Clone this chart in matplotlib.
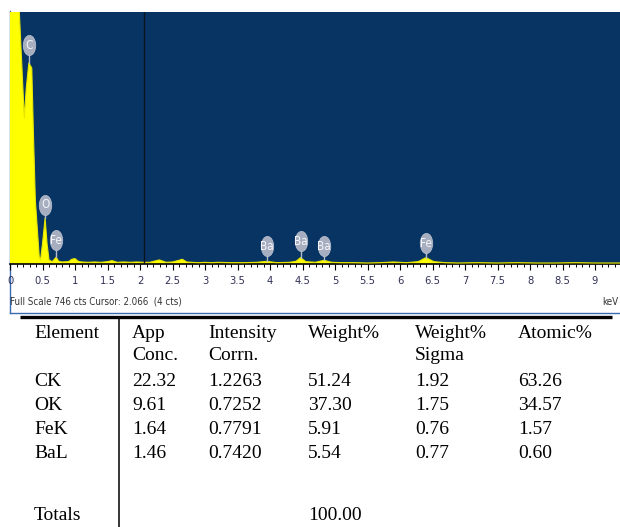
"""EDS spectrum screenshot with quantification table below."""

import matplotlib
matplotlib.use('Agg')
import matplotlib.pyplot as plt
from matplotlib.path import Path
from matplotlib.transforms import Affine2D
from matplotlib.ticker import MultipleLocator, FuncFormatter

plt.rcParams['font.family'] = ['Liberation Sans Narrow', 'DejaVu Sans']
plt.rcParams['font.stretch'] = 'condensed'

# spectrum (keV, counts)
energy = [0.00, 0.05, 0.10, 0.14, 0.22, 0.25, 0.29, 0.335, 0.36, 0.39, 0.45, 0.47,
          0.50, 0.54, 0.57, 0.60, 0.65, 0.71, 0.75, 0.80, 0.90, 0.95, 1.00, 1.05,
          1.10, 1.20, 1.30, 1.40, 1.50, 1.57, 1.65, 1.75, 1.85, 1.95, 2.05, 2.15,
          2.25, 2.30, 2.40, 2.50, 2.60, 2.65, 2.72, 2.80, 2.90, 3.00, 3.10, 3.20,
          3.40, 3.60, 3.80, 3.95, 4.10, 4.30, 4.40, 4.47, 4.55, 4.70, 4.83, 4.95,
          5.10, 5.30, 5.50, 5.70, 5.90, 6.10, 6.28, 6.40, 6.52, 6.70, 6.90, 7.20,
          7.50, 7.80, 8.10, 8.40, 8.70, 9.00, 9.40]
counts = [1800, 2200, 1500, 760, 432, 520, 595, 580, 388, 189, 21, 12,
          60, 136, 60, 12, 7, 20, 8, 6, 7, 14, 16, 8,
          6, 5, 6, 5, 7, 10, 5, 6, 5, 6, 5, 5,
          10, 12, 5, 6, 11, 14, 6, 5, 4, 5, 4, 5,
          4, 4, 5, 8, 4, 5, 8, 19, 7, 5, 11, 5,
          4, 4, 3, 4, 6, 4, 7, 19, 7, 4, 3, 4,
          3, 4, 3, 3, 4, 3, 3]
full_scale = 746
cursor_kev = 2.066

# peak markers: element, line energy, label height (cts), peak height (cts)
peak_names = ['C', 'O', 'Fe', 'Ba', 'Ba', 'Ba', 'Fe']
peak_kev = [0.29, 0.54, 0.71, 3.95, 4.47, 4.83, 6.40]
label_cts = [648, 175, 71, 53, 68, 53, 62]
peak_cts = [595, 136, 20, 8, 19, 11, 19]

# quantification table
elements = ['CK', 'OK', 'FeK', 'BaL']
app_conc = ['22.32', '9.61', '1.64', '1.46']
intensity_corr = ['1.2263', '0.7252', '0.7791', '0.7420']
weight_pct = ['51.24', '37.30', '5.91', '5.54']
weight_sigma = ['1.92', '1.75', '0.76', '0.77']
atomic_pct = ['63.26', '34.57', '1.57', '0.60']
total_weight = '100.00'

W, H = 620, 527
fig = plt.figure(figsize=(W / 100, H / 100), dpi=100)
fig.patch.set_facecolor('white')

# overlay in pixel coordinates for frame and table
ov = fig.add_axes([0, 0, 1, 1], zorder=0)
ov.set_xlim(0, W)
ov.set_ylim(H, 0)
ov.axis('off')

# spectrum panel
x0, y_top, y_base = 10, 12, 264
px_per_kev = 65
ax = fig.add_axes([x0 / W, (H - y_base) / H, (W - x0) / W, (y_base - y_top) / H], zorder=2)
ax.set_facecolor('#083464')
ax.set_xlim(0, (W - x0) / px_per_kev)
ax.set_ylim(0, full_scale)

ax.fill_between(energy, counts, 0, color='#FFFF00', lw=0, zorder=2)
ax.plot(energy, counts, color='#E6E600', lw=0.8, zorder=3)
ax.axvline(cursor_kev, color='#0c1420', lw=1.0, zorder=4)

blob = Path(Affine2D().scale(0.62, 1.0).transform(Path.unit_circle().vertices),
            Path.unit_circle().codes)
for name, e, ly, py in zip(peak_names, peak_kev, label_cts, peak_cts):
    ax.plot([e, e], [py, ly], color='#B4BCCB', lw=1.0, zorder=5)
    ax.plot(e, ly, marker=blob, ms=14.5, color='#A6AEC0', mec='#C0C6D2', mew=0.5,
            zorder=6, linestyle='none')
    ax.text(e, ly, name, ha='center', va='center', fontsize=8.5,
            color='#F4F4F8', zorder=7)

for s in ['top', 'left', 'right']:
    ax.spines[s].set_visible(False)
ax.spines['bottom'].set_color('black')
ax.spines['bottom'].set_linewidth(1.2)
ax.set_yticks([])
ax.xaxis.set_major_locator(MultipleLocator(0.5))
ax.xaxis.set_minor_locator(MultipleLocator(0.1))
ax.xaxis.set_major_formatter(FuncFormatter(lambda v, p: f'{v:g}'))
ax.tick_params(axis='x', which='major', length=4.5, width=0.8, pad=4,
               labelsize=8, labelcolor='#303058', color='black')
ax.tick_params(axis='x', which='minor', length=2.5, width=0.7, color='black')

ov.text(618, 23, 'Spectrum 3', fontsize=7, color='#D8E030', ha='right', va='center',
        zorder=3)
ov.text(10, 302, 'Full Scale 746 cts Cursor: 2.066  (4 cts)', fontsize=7,
        color='#333333', ha='left', va='center')
ov.text(618, 302, 'keV', fontsize=7, color='#333333', ha='right', va='center')

# screenshot frame and table rules
ov.plot([9.5, 9.5], [11, 313], color='#3a6ab0', lw=1.0)
ov.plot([9.5, W], [313, 313], color='#3a6ab0', lw=1.0)
ov.plot([20, 612], [316.5, 316.5], color='black', lw=2.4, solid_capstyle='butt')
ov.plot([119, 119], [318, H], color='black', lw=1.1)

# table text
tf = dict(family=['Liberation Serif', 'DejaVu Serif'], fontsize=14, color='black',
          va='center', ha='left', fontstretch='normal')
col_x = [34, 132, 208, 308, 415, 518]
ov.text(col_x[0], 333, 'Element', **tf)
ov.text(col_x[1], 333, 'App', **tf)
ov.text(col_x[1], 355, 'Conc.', **tf)
ov.text(col_x[2], 333, 'Intensity', **tf)
ov.text(col_x[2], 355, 'Corrn.', **tf)
ov.text(col_x[3], 333, 'Weight%', **tf)
ov.text(col_x[4], 333, 'Weight%', **tf)
ov.text(col_x[4], 355, 'Sigma', **tf)
ov.text(col_x[5], 333, 'Atomic%', **tf)

row_y = [382, 406, 430, 453]
for i, y in enumerate(row_y):
    vals = [elements[i], app_conc[i], intensity_corr[i], weight_pct[i],
            weight_sigma[i], atomic_pct[i]]
    for cx, v in zip(col_x, vals):
        ov.text(cx, y, v, **tf)

ov.text(col_x[0], 516, 'Totals', **tf)
ov.text(col_x[3], 516, total_weight, **tf)

fig.savefig('out.png', dpi=100)
